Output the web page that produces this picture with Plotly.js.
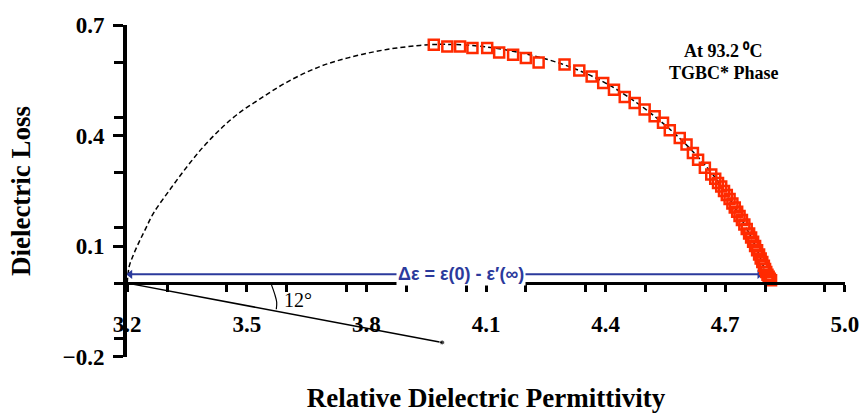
<!DOCTYPE html>
<html>
<head>
<meta charset="utf-8">
<script src="https://cdn.plot.ly/plotly-3.0.1.min.js"></script>
<style>html,body{margin:0;padding:0;background:#fff;}#chart{width:863px;height:413px;}</style>
</head>
<body>
<div id="chart"></div>
<script>
// Measured data (red open squares)
const permittivity = [3.969,4.003,4.035,4.066,4.103,4.133,4.168,4.200,4.232,4.297,4.334,4.365,4.394,4.421,4.448,4.473,4.498,4.523,4.544,4.561,4.586,4.603,4.619,4.632,4.649,4.665,
  4.675,4.682,4.690,4.697,4.704,4.711,4.718,4.724,4.730,4.736,4.742,4.748,4.754,4.760,4.765,4.770,4.775,4.780,4.785,4.789,4.793,4.797,4.800,4.803,4.806,4.809,4.812,4.815];
const loss = [0.647,0.642,0.642,0.638,0.638,0.626,0.620,0.611,0.599,0.593,0.577,0.561,0.543,0.525,0.505,0.489,0.471,0.453,0.435,0.415,0.394,0.376,0.353,0.335,0.313,0.295,
  0.283,0.272,0.262,0.250,0.239,0.228,0.216,0.205,0.194,0.182,0.171,0.159,0.147,0.135,0.124,0.112,0.101,0.089,0.078,0.067,0.057,0.047,0.038,0.030,0.023,0.017,0.012,0.008];

// Fitted Cole-Cole arc (dashed)
const fitPermittivity = [3.2,3.205,3.216,3.23,3.245,3.266,3.308,3.35,3.391,3.433,3.475,3.533,3.6,3.684,3.767,3.851,3.934,4.0,4.1,4.2,4.3,4.4,4.5,4.6,4.68,4.74,4.78,4.81];
const fitLoss = [0,0.045,0.078,0.112,0.145,0.19,0.255,0.316,0.37,0.417,0.457,0.5,0.545,0.588,0.615,0.634,0.645,0.648,0.641,0.622,0.591,0.543,0.472,0.378,0.279,0.175,0.09,0.0];

// Construction line to the arc centre and the 12° angle mark
const centreLineX = [3.2, 3.99];
const centreLineY = [0, -0.161];
const angleArcX = [3.561, 3.570, 3.575, 3.574];
const angleArcY = [-0.002, -0.030, -0.052, -0.071];

// Δε double arrow
const deltaX = [3.2075, 4.786];
const deltaY = [0.024, 0.024];

const xTicks = {start: 3.2, step: 0.3, minor: 0.15};
const yTicks = {start: -0.2, step: 0.3, minor: 0.15};

const serif = 'Liberation Serif, Times New Roman, serif';
const blue = '#2b3a9c';
const red = '#ff2a00';

const traces = [
  {x: fitPermittivity, y: fitLoss, mode: 'lines', line: {color: 'black', width: 1.5, dash: '5px,3px', shape: 'spline'}, hoverinfo: 'skip', showlegend: false},
  {x: centreLineX, y: centreLineY, mode: 'lines+markers', line: {color: 'black', width: 1.5}, marker: {size: [0, 5], color: 'black'}, showlegend: false},
  {x: angleArcX, y: angleArcY, mode: 'lines', line: {color: 'black', width: 1.2, shape: 'spline'}, showlegend: false},
  {x: deltaX, y: deltaY, mode: 'lines+markers', line: {color: blue, width: 2},
   marker: {symbol: ['triangle-left', 'triangle-right'], size: 8, color: blue}, showlegend: false},
  {x: permittivity, y: loss, mode: 'markers', marker: {symbol: 'square-open', size: 10, color: red, line: {width: 2.5, color: red}}, showlegend: false}
];

const layout = {
  width: 863, height: 413,
  margin: {l: 127, r: 18, t: 25, b: 56, pad: 0},
  paper_bgcolor: 'white', plot_bgcolor: 'white',
  showlegend: false,
  xaxis: {
    range: [3.1995, 5.0005], anchor: 'free', position: 0.2222,
    showline: true, linewidth: 2.5, linecolor: 'black',
    ticks: 'outside', ticklen: 7, tickwidth: 3, tickcolor: 'black',
    tick0: xTicks.start, dtick: xTicks.step, tickformat: '.1f',
    minor: {dtick: xTicks.minor, ticks: 'outside', ticklen: 7, tickwidth: 3, tickcolor: 'black', showgrid: false},
    showgrid: false, zeroline: false, ticklabelstandoff: 13,
    tickfont: {family: serif, size: 23, color: 'black', weight: 'bold'},
    title: {text: 'Relative Dielectric Permittivity', standoff: 62,
            font: {family: serif, size: 27, color: 'black', weight: 'bold'}}
  },
  yaxis: {
    range: [-0.2005, 0.7005],
    showline: true, linewidth: 4, linecolor: 'black',
    ticks: 'outside', ticklen: 10, tickwidth: 3, tickcolor: 'black',
    tick0: yTicks.start, dtick: yTicks.step, tickformat: '.1f',
    minor: {dtick: yTicks.minor, ticks: 'outside', ticklen: 9, tickwidth: 3, tickcolor: 'black', showgrid: false},
    showgrid: false, zeroline: false, ticklabelstandoff: 4,
    tickfont: {family: serif, size: 23, color: 'black', weight: 'bold'},
    title: {text: 'Dielectric Loss', standoff: 25,
            font: {family: serif, size: 27, color: 'black', weight: 'bold'}}
  },
  annotations: [
    {x: 4.037, y: 0.024, xref: 'x', yref: 'y', text: 'Δε = ε(0) - ε′(∞)', showarrow: false,
     font: {family: 'Liberation Sans, Arial, sans-serif', size: 18, color: blue, weight: 'bold'}, bgcolor: 'white', borderpad: 1},
    {x: 3.629, y: -0.047, xref: 'x', yref: 'y', text: '12°', showarrow: false,
     font: {family: serif, size: 20, color: 'black'}},
    {x: 4.696, y: 0.631, xref: 'x', yref: 'y', text: 'At 93.2 ⁰C', showarrow: false,
     font: {family: serif, size: 18, color: 'black', weight: 'bold'}},
    {x: 4.696, y: 0.569, xref: 'x', yref: 'y', text: 'TGBC* Phase', showarrow: false,
     font: {family: serif, size: 18, color: 'black', weight: 'bold'}}
  ]
};

Plotly.newPlot('chart', traces, layout, {staticPlot: true, displayModeBar: false});
</script>
</body>
</html>
